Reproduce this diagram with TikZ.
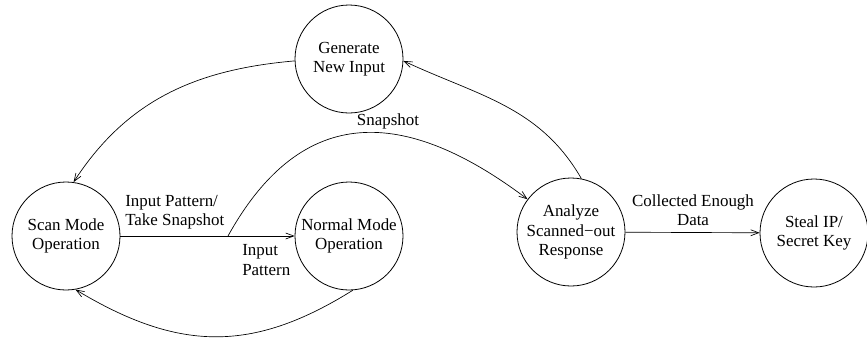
\documentclass[tikz,border=0pt]{standalone}
\usepackage{fontspec}
\setmainfont{Liberation Serif}
\usetikzlibrary{positioning, arrows.meta}

\begin{document}
\begin{tikzpicture}[
  x=0.75pt, y=0.75pt,
  % State Nodes (Circles)
  stateNode/.style={circle, draw, line width=0.6pt, minimum size=81pt, inner sep=0pt,
    align=center, font=\fontsize{12.7}{14.6}\selectfont},
  % Edge Labels
  edgeLabel/.style={inner sep=0pt, font=\fontsize{12.7}{14.6}\selectfont},
  % Connectors
  flowArrow/.style={line width=0.5pt, -{Straight Barb[length=6pt, width=4.5pt]}}
  ]
  \useasboundingbox (0,0) rectangle (867,337);

  % --- State Nodes ---
  \node[stateNode] (SScan)   at (66,101)  {Scan Mode\\Operation};
  \node[stateNode] (SNormal) at (349,101) {Normal Mode\\Operation};
  \node[stateNode] (SGen)    at (349,278) {Generate\\New Input};
  \node[stateNode] (SAna)    at (571,105) {Analyze\\Scanned\char"2212 out\\Response};
  \node[stateNode] (SSteal)  at (814,104) {Steal IP/\\Secret Key};

  % --- Scan Mode to Normal Mode ---
  \draw[flowArrow] (SScan) -- (SNormal);
  \node[edgeLabel, align=left, anchor=west] (lTake) at (125,125) {Input Pattern/\\Take Snapshot};
  \node[edgeLabel, align=left, anchor=west] (lInput) at (242,77) {Input\\Pattern};

  % Snapshot taken along the way
  \coordinate (tap) at (228,101);
  \draw[flowArrow] (tap) to[out=61, in=143, looseness=1.3] (SAna.143);
  \node[edgeLabel] (lSnap) at (388,216) {Snapshot};

  % --- Loops back to Scan Mode ---
  \draw[flowArrow] (SNormal.-86) to[out=212, in=-31, looseness=1.1] (SScan.-80);
  \draw[flowArrow] (SGen.182) to[out=185, in=57] (SScan.82);

  % --- Analysis ---
  \draw[flowArrow] (SAna.79) to[out=120, in=-25] (SGen.-2);
  \draw[flowArrow] (SAna) -- (SSteal);
  \node[edgeLabel, align=center] (lEnough) at (693,127) {Collected Enough\\Data};

\end{tikzpicture}
\end{document}
